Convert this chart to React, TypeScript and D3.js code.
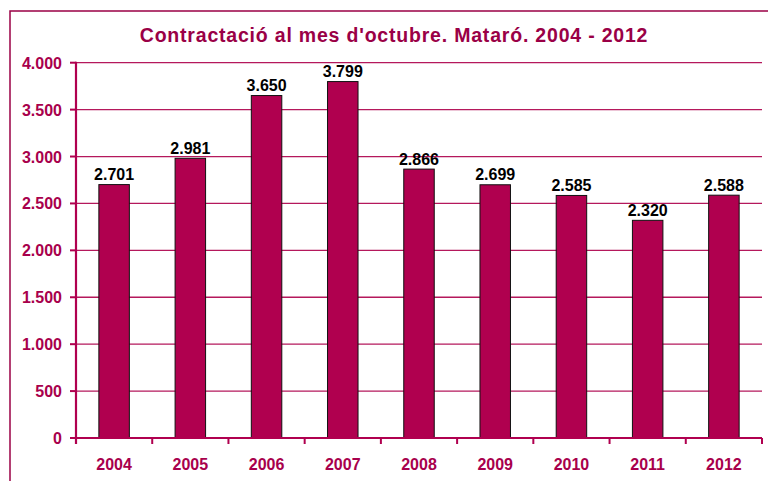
import React from "react";
import * as d3 from "d3";

const years = ["2004", "2005", "2006", "2007", "2008", "2009", "2010", "2011", "2012"];
const values = [2701, 2981, 3650, 3799, 2866, 2699, 2585, 2320, 2588];
const yTicks = [0, 500, 1000, 1500, 2000, 2500, 3000, 3500, 4000];
const title = "Contractació al mes d'octubre. Mataró. 2004 - 2012";

const fmt = (v: number) => {
  const s = String(v);
  return s.length > 3 ? s.slice(0, s.length - 3) + "." + s.slice(s.length - 3) : s;
};

export default function App() {
  const W = 768, H = 481;
  const left = 76, right = 762, top = 62.7, bottom = 438;
  const x = d3.scaleBand<string>().domain(years).range([left, right]).paddingInner(0.6).paddingOuter(0.3);
  const band = d3.scaleBand<string>().domain(years).range([left, right]).padding(0);
  const y = d3.scaleLinear().domain([0, 4000]).range([bottom, top]);
  const axisColor = "#B0004F";
  const textColor = "#A8004C";
  const font = "Arial, 'Liberation Sans', sans-serif";
  const fs = 16;
  return (
    <svg width={W} height={H} style={{ position: "absolute", left: 0, top: 0 }}>
      <rect x={0} y={0} width={W} height={H} fill="#fff" />
      <path d={`M10,${H} L10,11 L${W},11`} fill="none" stroke="#9A0046" strokeWidth={1.5} />
      <text x={394} y={42} textAnchor="middle" fontFamily={font} fontWeight="bold" fontSize={19.5} letterSpacing={0.8} fill="#9A0046">
        {title}
      </text>
      {yTicks.map((t) => (
        <g key={t}>
          {t > 0 && <line x1={left} x2={right} y1={y(t)} y2={y(t)} stroke="#B5185C" strokeWidth={1.3} />}
          <line x1={left - 6} x2={left} y1={y(t)} y2={y(t)} stroke={axisColor} strokeWidth={2} />
          <text x={62} y={y(t) + 6} textAnchor="end" fontFamily={font} fontWeight="bold" fontSize={fs} fill={textColor}>
            {fmt(t)}
          </text>
        </g>
      ))}
      {years.map((yr, i) => (
        <g key={yr}>
          <rect
            x={x(yr)!}
            y={y(values[i])}
            width={x.bandwidth()}
            height={bottom - y(values[i])}
            fill="#B0004F"
            stroke="#111"
            strokeWidth={1}
          />
          <text
            x={x(yr)! + x.bandwidth() / 2}
            y={y(values[i]) - 4.5}
            textAnchor="middle"
            fontFamily={font}
            fontWeight="bold"
            fontSize={fs}
            fill="#000"
          >
            {fmt(values[i])}
          </text>
          <text
            x={band(yr)! + band.bandwidth() / 2}
            y={470}
            textAnchor="middle"
            fontFamily={font}
            fontWeight="bold"
            fontSize={fs}
            fill={textColor}
          >
            {yr}
          </text>
        </g>
      ))}
      {[...years.map((yr) => band(yr)!), right].map((bx, i) => (
        <line key={i} x1={bx} x2={bx} y1={bottom} y2={bottom + 6} stroke={axisColor} strokeWidth={2} />
      ))}
      <line x1={left} x2={left} y1={top - 1} y2={bottom + 6} stroke={axisColor} strokeWidth={2.2} />
      <line x1={left} x2={right} y1={bottom} y2={bottom} stroke={axisColor} strokeWidth={2.2} />
    </svg>
  );
}
